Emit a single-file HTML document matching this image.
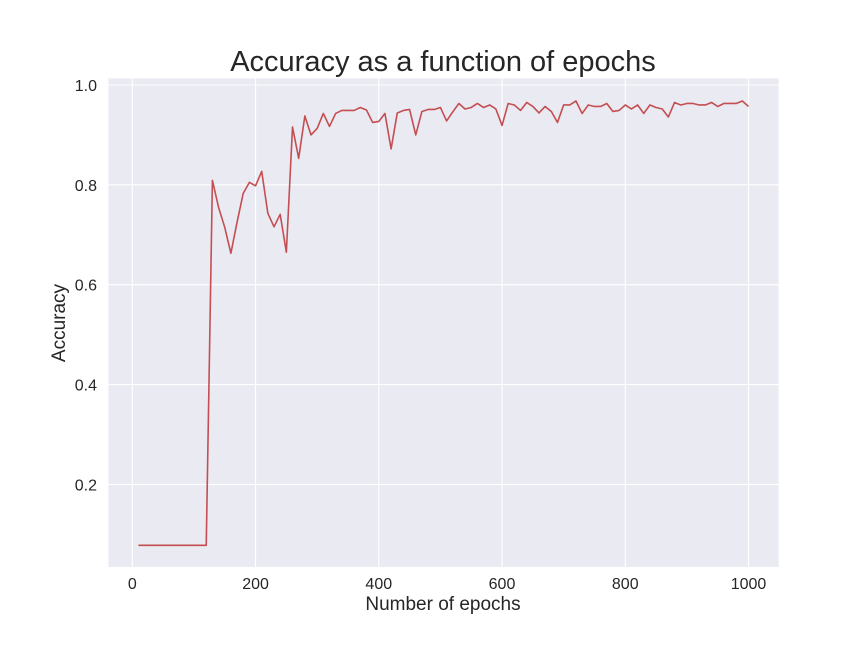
<!DOCTYPE html>
<html><head><meta charset="utf-8"><style>
html,body{margin:0;padding:0;background:#fff;}
svg{display:block;font-family:"Liberation Sans",Arial,sans-serif;}
</style></head><body>
<svg id="chart" width="864" height="648" viewBox="0 0 864 648">
<rect x="0" y="0" width="864" height="648" fill="#fff"/>
<rect x="108.5" y="78.5" width="670" height="488.5" fill="#EAEAF2"/>
<g id="grid"></g>
<g id="ticks"></g>
<polyline id="line" fill="none" stroke="#C44E52" stroke-width="1.6" stroke-linejoin="round"/>
<text x="443" y="71" text-anchor="middle" font-size="29" fill="#262626">Accuracy as a function of epochs</text>
<text x="443" y="610" text-anchor="middle" font-size="19" fill="#262626">Number of epochs</text>
<text x="65" y="323" text-anchor="middle" font-size="19" fill="#262626" transform="rotate(-90 65 323)">Accuracy</text>
</svg>
<script>
const xTicks = [0, 200, 400, 600, 800, 1000];
const yTicks = [0.2, 0.4, 0.6, 0.8, 1.0];
const yTickLabels = ["0.2", "0.4", "0.6", "0.8", "1.0"];
const epochs = [10,20,30,40,50,60,70,80,90,100,110,120,130,140,150,160,170,180,190,200,210,220,230,240,250,260,270,280,290,300,310,320,330,340,350,360,370,380,390,400,410,420,430,440,450,460,470,480,490,500,510,520,530,540,550,560,570,580,590,600,610,620,630,640,650,660,670,680,690,700,710,720,730,740,750,760,770,780,790,800,810,820,830,840,850,860,870,880,890,900,910,920,930,940,950,960,970,980,990,1000];
const accuracy = [0.078,0.078,0.078,0.078,0.078,0.078,0.078,0.078,0.078,0.078,0.078,0.078,
0.809,0.755,0.715,0.663,0.725,0.783,0.805,0.798,0.827,0.743,0.716,0.741,0.665,0.916,0.853,0.938,0.900,0.913,
0.943,0.917,0.943,0.949,0.949,0.949,0.955,0.950,0.925,0.927,0.943,0.872,0.944,0.949,0.951,0.900,0.947,0.951,
0.951,0.955,0.928,0.946,0.963,0.952,0.955,0.963,0.955,0.960,0.952,0.919,0.963,0.960,0.949,0.965,0.957,0.944,
0.957,0.947,0.925,0.960,0.960,0.968,0.943,0.960,0.957,0.957,0.963,0.947,0.949,0.960,0.952,0.960,0.943,0.960,
0.955,0.952,0.936,0.965,0.960,0.963,0.963,0.960,0.960,0.965,0.957,0.963,0.963,0.963,0.968,0.957];
const NS = "http://www.w3.org/2000/svg";
function xs(v){ return 132.3 + v * 0.6162; }
function ys(v){ return 584.3 - v * 499.3; }
const grid = document.getElementById('grid');
const ticks = document.getElementById('ticks');
xTicks.forEach(function(t){
  const l = document.createElementNS(NS,'line');
  
  
  l.setAttribute('x1', xs(t)); l.setAttribute('x2', xs(t));
  l.setAttribute('y1', 78.5); l.setAttribute('y2', 567);
  l.setAttribute('stroke', '#fff'); l.setAttribute('stroke-width', '1.1');
  grid.appendChild(l);
  const tx = document.createElementNS(NS,'text');
  
  
  tx.setAttribute('x', xs(t)); tx.setAttribute('y', 589);
  tx.setAttribute('text-anchor', 'middle'); tx.setAttribute('font-size', '16'); tx.setAttribute('fill', '#262626');
  tx.textContent = String(t);
  ticks.appendChild(tx);
});
yTicks.forEach(function(t, i){
  const l = document.createElementNS(NS,'line');
  
  
  l.setAttribute('x1', 108.5); l.setAttribute('x2', 778.5);
  l.setAttribute('y1', ys(t)); l.setAttribute('y2', ys(t));
  l.setAttribute('stroke', '#fff'); l.setAttribute('stroke-width', '1.1');
  grid.appendChild(l);
  const tx = document.createElementNS(NS,'text');
  
  
  tx.setAttribute('x', 97); tx.setAttribute('y', ys(t) + 6);
  tx.setAttribute('text-anchor', 'end'); tx.setAttribute('font-size', '16'); tx.setAttribute('fill', '#262626');
  tx.textContent = yTickLabels[i];
  ticks.appendChild(tx);
});
const pts = epochs.map(function(e, i){ return xs(e).toFixed(2) + ',' + ys(accuracy[i]).toFixed(2); }).join(' ');
document.getElementById('line').setAttribute('points', pts);
</script>
</body></html>
